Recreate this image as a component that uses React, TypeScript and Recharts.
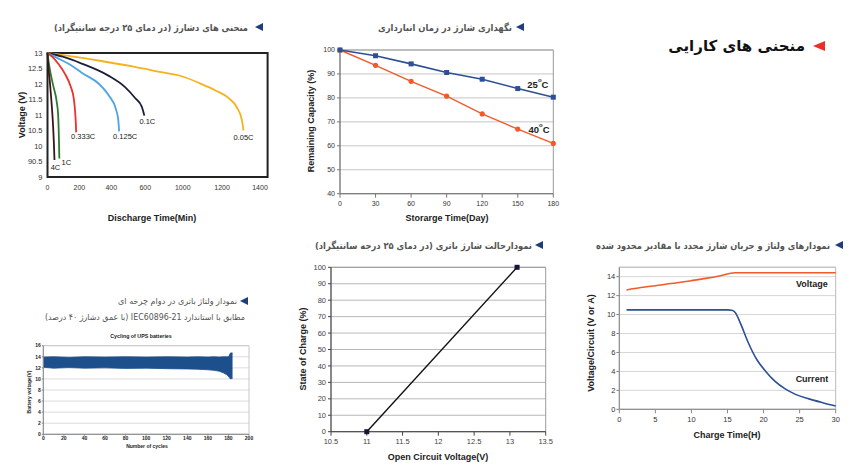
import React from 'react';
import {
  LineChart,
  Line,
  AreaChart,
  Area,
  XAxis,
  YAxis,
  CartesianGrid,
  ReferenceArea,
  ReferenceDot,
} from 'recharts';

const FONT = '"Liberation Sans", Arial, sans-serif';
const FA_FONT = '"DejaVu Sans", sans-serif';

// ---------- Chart 1: discharge curves ----------
const T_005 = [0, 150, 345, 567, 750, 884, 1005, 1104, 1192, 1247, 1280, 1291];
const V_005 = [13.0, 12.9, 12.75, 12.56, 12.38, 12.25, 12.02, 11.8, 11.55, 11.25, 10.85, 10.5];
const T_01 = [0, 100, 225, 401, 511, 577, 621, 638];
const V_01 = [13.0, 12.88, 12.66, 12.27, 11.9, 11.55, 11.27, 10.98];
const T_0125 = [0, 60, 150, 230, 340, 405, 450, 466, 472];
const V_0125 = [13.0, 12.85, 12.62, 12.35, 12.0, 11.62, 11.2, 10.85, 10.47];
const T_0333 = [0, 30, 70, 118, 152, 174, 182, 186, 189];
const V_0333 = [13.0, 12.88, 12.66, 12.3, 11.93, 11.5, 11.1, 10.8, 10.44];
const T_1C = [0, 8, 20, 40, 60, 70, 75, 78];
const V_1C = [13.0, 12.7, 12.35, 11.9, 11.45, 11.0, 10.3, 9.6];
const T_4C = [0, 5, 15, 25, 35, 42, 46];
const V_4C = [13.0, 12.6, 12.1, 11.5, 10.8, 10.1, 9.55];

const DIS_X_TICKS = [0, 210, 420, 644, 891, 1150, 1400];
const DIS_X_LABELS = ['0', '200', '400', '600', '1000', '1200', '1400'];
const DIS_Y_TICKS = [9, 9.5, 10, 10.5, 11, 11.5, 12, 12.5, 13];
const DIS_Y_LABELS = ['9', '90.5', '10', '10.5', '11', '11.5', '12', '12.5', '13'];

const DIS_SERIES = [
  { name: '0.05C', t: T_005, v: V_005, color: '#f6b21c', dx: 0, dy: 7 },
  { name: '0.1C', t: T_01, v: V_01, color: '#1c1f3c', dx: 3, dy: 6 },
  { name: '0.125C', t: T_0125, v: V_0125, color: '#4da5e4', dx: 6, dy: 5 },
  { name: '0.333C', t: T_0333, v: V_0333, color: '#e8322a', dx: 7, dy: 4 },
  { name: '1C', t: T_1C, v: V_1C, color: '#2c7b30', dx: 7, dy: 4 },
  { name: '4C', t: T_4C, v: V_4C, color: '#3a1717', dx: 1, dy: 8 },
];

// ---------- Chart 2: storage ----------
const DAYS = [0, 30, 60, 90, 120, 150, 180];
const CAP_25 = [100, 97.6, 94.2, 90.6, 87.8, 83.9, 80.3];
const CAP_40 = [100, 93.6, 86.9, 80.7, 73.3, 67.0, 61.0];
const CAP_Y_TICKS = [40, 50, 60, 70, 80, 90, 100];

// ---------- Chart 3: cycling ----------
const CYCLES = [0, 10, 25, 40, 60, 80, 100, 120, 140, 150, 160, 166, 171, 175, 178, 180, 181, 182, 184];
const BAND_HI = [13.95, 14.0, 13.9, 14.0, 13.95, 14.0, 13.95, 14.0, 13.95, 14.0, 13.95, 14.0, 13.95, 14.0, 14.0, 14.0, 14.3, 14.7, 14.7];
const BAND_LO = [12.1, 11.95, 12.05, 11.95, 12.0, 11.9, 11.95, 11.85, 11.8, 11.75, 11.65, 11.55, 11.4, 11.1, 10.8, 10.5, 10.2, 10.0, 10.1];
const CYC_X_TICKS = [0, 20, 40, 60, 80, 100, 120, 140, 160, 180, 200];
const CYC_Y_TICKS = [0, 2, 4, 6, 8, 10, 12, 14, 16];

// ---------- Chart 4: state of charge ----------
const OCV = [11.0, 13.1];
const SOC = [0, 100];
const OCV_TICKS = [10.5, 11, 11.5, 12, 12.5, 13, 13.5];
const SOC_TICKS = [0, 10, 20, 30, 40, 50, 60, 70, 80, 90, 100];

// ---------- Chart 5: recharge ----------
const VOLT_T = [1, 3, 5, 8, 10, 12, 14, 16, 18, 22, 26, 30];
const VOLT_V = [12.6, 12.85, 13.05, 13.35, 13.58, 13.82, 14.1, 14.42, 14.42, 14.42, 14.42, 14.42];
const CURR_T = [1, 5, 10, 15, 15.6, 16.1, 16.5, 17.0, 17.9, 19.1, 20.3, 21.6, 23.0, 24.5, 26.3, 28.2, 30];
const CURR_A = [10.5, 10.5, 10.5, 10.5, 10.45, 10.2, 9.6, 8.7, 7.0, 5.2, 4.0, 2.95, 2.15, 1.55, 1.1, 0.7, 0.35];
const CT_X_TICKS = [0, 5, 10, 15, 20, 25, 30];
const CT_Y_TICKS = [0, 2, 4, 6, 8, 10, 12, 14];

const pts = (xs: number[], ys: number[]) => xs.map((x, i) => ({ x, y: ys[i] }));

const Square = (color: string, s: number) => (p: any) => (
  <rect key={p.key} x={p.cx - s / 2} y={p.cy - s / 2} width={s} height={s} fill={color} />
);
const Circle = (color: string, r: number) => (p: any) => (
  <circle key={p.key} cx={p.cx} cy={p.cy} r={r} fill={color} />
);

const Tag = (text: string, dx: number, dy: number, size: number, bold: boolean) => (p: any) => (
  <text
    x={p.cx + dx}
    y={p.cy + dy}
    textAnchor="middle"
    dominantBaseline="central"
    fontSize={size}
    fontFamily={FONT}
    fontWeight={bold ? 'bold' : 'normal'}
    fill="#1a1a1a"
  >
    {text}
  </text>
);

const TempTag = (num: string, dx: number, dy: number) => (p: any) => (
  <text
    x={p.cx + dx}
    y={p.cy + dy}
    textAnchor="middle"
    dominantBaseline="central"
    fontSize={9.5}
    fontFamily={FONT}
    fontWeight="bold"
    fill="#222"
  >
    <tspan>{num}</tspan>
    <tspan dy={-4} fontSize={6}>o</tspan>
    <tspan dy={4}>C</tspan>
  </text>
);

// Persian title, stretched to the width it occupies in the reference
const FaTitle = ({ left, width, cy, text, size, bold }: any) => (
  <svg
    style={{ position: 'absolute', left, top: cy - 10, overflow: 'visible' }}
    width={width}
    height={20}
  >
    <text
      x={width / 2}
      y={10}
      textAnchor="middle"
      dominantBaseline="central"
      direction="rtl"
      textLength={width}
      lengthAdjust="spacingAndGlyphs"
      fontFamily={FA_FONT}
      fontSize={size}
      fontWeight={bold ? 'bold' : 'normal'}
      fill="#555"
    >
      {text}
    </text>
  </svg>
);

const Arrow = ({ x, cy, w, h, color }: any) => (
  <div
    style={{
      position: 'absolute',
      left: x,
      top: cy - h / 2,
      width: 0,
      height: 0,
      borderTop: `${h / 2}px solid transparent`,
      borderBottom: `${h / 2}px solid transparent`,
      borderRight: `${w}px solid ${color}`,
    }}
  />
);

const AxisTitle = ({ cx, cy, text, size, rotate }: any) => (
  <div
    style={{
      position: 'absolute',
      left: cx,
      top: cy,
      transform: `translate(-50%, -50%)${rotate ? ' rotate(-90deg)' : ''}`,
      whiteSpace: 'nowrap',
      fontFamily: FONT,
      fontWeight: 'bold',
      fontSize: size,
      color: '#222',
      lineHeight: 1,
    }}
  >
    {text}
  </div>
);

const tick = (size: number, fill = '#333', weight = 'normal') => ({
  fontSize: size,
  fill,
  fontFamily: FONT,
  fontWeight: weight,
});

export default function App() {
  const bandData = CYCLES.map((c, i) => ({ c, range: [BAND_LO[i], BAND_HI[i]] }));
  const socData = pts(OCV, SOC);

  return (
    <div
      style={{
        position: 'absolute',
        left: 0,
        top: 0,
        width: 865,
        height: 472,
        background: '#fff',
        overflow: 'hidden',
        fontFamily: FONT,
      }}
    >
      {/* Heading */}
      <div
        style={{
          position: 'absolute',
          right: 865 - 825,
          top: 36,
          height: 20,
          display: 'flex',
          alignItems: 'center',
          gap: 8,
          whiteSpace: 'nowrap',
        }}
      >
        <span dir="rtl" style={{ fontFamily: FA_FONT, fontSize: 15, fontWeight: 'bold', color: '#111' }}>
          منحنی های کارایی
        </span>
        <span
          style={{
            width: 0,
            height: 0,
            borderTop: '5px solid transparent',
            borderBottom: '5px solid transparent',
            borderRight: '12px solid #e8302a',
          }}
        />
      </div>

      <FaTitle left={54} width={194} cy={27} size={9.5} bold text="منحنی های دشارژ (در دمای ۲۵ درجه سانتیگراد)" />
      <Arrow x={255} cy={27} w={8} h={8} color="#1f3c7c" />
      <FaTitle left={378} width={134} cy={27} size={9.5} bold text="نگهداری شارژ در زمان انبارداری" />
      <Arrow x={516} cy={27} w={8} h={8} color="#1f3c7c" />
      <FaTitle left={118} width={119} cy={301} size={8.5} text="نمودار ولتاژ باتری در دوام چرخه ای" />
      <Arrow x={240} cy={301} w={8} h={8} color="#1f3c7c" />
      <FaTitle left={45} width={200} cy={317} size={8.5} text="مطابق با استاندارد IEC60896-21 (با عمق دشارژ ۴۰ درصد)" />
      <FaTitle left={315} width={217} cy={245} size={9.5} bold text="نمودارحالت شارژ باتری (در دمای ۲۵ درجه سانتیگراد)" />
      <Arrow x={535} cy={245} w={8} h={8} color="#1f3c7c" />
      <FaTitle left={596} width={234} cy={245} size={9.5} bold text="نمودارهای ولتاژ و جریان شارژ مجدد با مقادیر محدود شده" />
      <Arrow x={835} cy={245} w={8} h={8} color="#1f3c7c" />

      {/* Chart 1 */}
      <div style={{ position: 'absolute', left: 0, top: 40 }}>
        <LineChart width={275} height={190} margin={{ top: 13, right: 7.4, left: 17.5, bottom: 33 }}>
          <XAxis
            type="number"
            dataKey="x"
            domain={[0, 1450]}
            ticks={DIS_X_TICKS}
            interval={0}
            tickFormatter={(v: any, i: number) => DIS_X_LABELS[i]}
            axisLine={false}
            tickLine={false}
            tickSize={6}
            tickMargin={2}
            height={20}
            tick={tick(7)}
          />
          <YAxis
            type="number"
            dataKey="y"
            domain={[9, 13]}
            ticks={DIS_Y_TICKS}
            interval={0}
            tickFormatter={(v: any, i: number) => DIS_Y_LABELS[i]}
            axisLine={false}
            tickLine={false}
            tickSize={3}
            tickMargin={2}
            width={30}
            tick={tick(7.5)}
          />
          {DIS_SERIES.map((s) => (
            <Line
              key={s.name}
              data={pts(s.t, s.v)}
              dataKey="y"
              type="monotone"
              stroke={s.color}
              strokeWidth={1.8}
              dot={false}
              isAnimationActive={false}
            />
          ))}
          <ReferenceArea x1={0} x2={1450} y1={9} y2={13} fill="none" stroke="#222" strokeWidth={2} />
          {DIS_SERIES.map((s) => (
            <ReferenceDot
              key={'l' + s.name}
              x={s.t[s.t.length - 1]}
              y={s.v[s.v.length - 1]}
              shape={Tag(s.name, s.dx, s.dy, 7.5, false)}
            />
          ))}
        </LineChart>
      </div>
      <AxisTitle cx={22} cy={115} text="Voltage (V)" size={9} rotate />
      <AxisTitle cx={152} cy={218} text="Discharge Time(Min)" size={9} />

      {/* Chart 2 */}
      <div style={{ position: 'absolute', left: 290, top: 30 }}>
        <LineChart width={275} height={200} margin={{ top: 20, right: 11.7, left: 20, bottom: 16.3 }}>
          <CartesianGrid vertical={false} stroke="#c6c6c6" />
          <XAxis
            type="number"
            dataKey="x"
            domain={[0, 180]}
            ticks={DAYS}
            interval={0}
            axisLine={{ stroke: '#777' }}
            tickLine={{ stroke: '#777' }}
            tickSize={4}
            tickMargin={3}
            height={20}
            tick={tick(7)}
          />
          <YAxis
            type="number"
            dataKey="y"
            domain={[40, 100]}
            ticks={CAP_Y_TICKS}
            interval={0}
            axisLine={{ stroke: '#777' }}
            tickLine={{ stroke: '#777' }}
            tickSize={3}
            tickMargin={2}
            width={30}
            tick={tick(7)}
          />
          <ReferenceArea x1={0} x2={180} y1={40} y2={100} fill="none" stroke="#999" />
          <Line
            data={pts(DAYS, CAP_40)}
            dataKey="y"
            type="linear"
            stroke="#f15a2b"
            strokeWidth={1.4}
            dot={Circle('#f15a2b', 2.6)}
            isAnimationActive={false}
          />
          <Line
            data={pts(DAYS, CAP_25)}
            dataKey="y"
            type="linear"
            stroke="#2c4f95"
            strokeWidth={1.6}
            dot={Square('#2c4f95', 5)}
            isAnimationActive={false}
          />
          <ReferenceDot x={167} y={85.8} shape={TempTag('25', 0, 0)} />
          <ReferenceDot x={168} y={67} shape={TempTag('40', 0, 0)} />
        </LineChart>
      </div>
      <AxisTitle cx={311} cy={121} text="Remaining Capacity (%)" size={9} rotate />
      <AxisTitle cx={447} cy={218} text="Storarge Time(Day)" size={9} />

      {/* Chart 3 */}
      <div style={{ position: 'absolute', left: 0, top: 325 }}>
        <AreaChart width={260} height={130} data={bandData} margin={{ top: 20.7, right: 11, left: 29.3, bottom: 10.7 }}>
          <CartesianGrid vertical={false} stroke="#dcdcdc" />
          <XAxis
            type="number"
            dataKey="c"
            domain={[0, 200]}
            ticks={CYC_X_TICKS}
            interval={0}
            axisLine={{ stroke: '#888' }}
            tickLine={{ stroke: '#888' }}
            tickSize={1.5}
            tickMargin={1}
            height={10}
            tick={tick(5, '#222', 'bold')}
          />
          <YAxis
            type="number"
            domain={[0, 16]}
            ticks={CYC_Y_TICKS}
            interval={0}
            axisLine={{ stroke: '#888' }}
            tickLine={{ stroke: '#888' }}
            tickSize={1.5}
            tickMargin={1}
            width={14}
            tick={tick(5, '#222', 'bold')}
          />
          <ReferenceArea x1={0} x2={200} y1={0} y2={16} fill="none" stroke="#c8c8c8" />
          <Area
            dataKey="range"
            type="linear"
            stroke="#1e4f8d"
            strokeWidth={0.8}
            fill="#1e4f8d"
            fillOpacity={1}
            isAnimationActive={false}
          />
        </AreaChart>
      </div>
      <AxisTitle cx={141} cy={337} text="Cycling of UPS batteries" size={5.3} />
      <AxisTitle cx={147} cy={446} text="Number of cycles" size={5} />
      <AxisTitle cx={29} cy={392} text="Battery voltage(V)" size={5} rotate />

      {/* Chart 4 */}
      <div style={{ position: 'absolute', left: 290, top: 250 }}>
        <LineChart width={270} height={220} margin={{ top: 17.3, right: 14.3, left: 16, bottom: 18.3 }}>
          <CartesianGrid vertical={false} stroke="#b8b8b8" />
          <XAxis
            type="number"
            dataKey="x"
            domain={[10.5, 13.5]}
            ticks={OCV_TICKS}
            interval={0}
            axisLine={{ stroke: '#444' }}
            tickLine={{ stroke: '#444' }}
            tickSize={4}
            tickMargin={3}
            height={20}
            tick={tick(7.5, '#444')}
          />
          <YAxis
            type="number"
            dataKey="y"
            domain={[0, 100]}
            ticks={SOC_TICKS}
            interval={0}
            axisLine={{ stroke: '#444' }}
            tickLine={{ stroke: '#444' }}
            tickSize={3}
            tickMargin={2}
            width={25}
            tick={tick(7.5, '#444')}
          />
          <ReferenceArea x1={10.5} x2={13.5} y1={0} y2={100} fill="none" stroke="#999" />
          <Line
            data={socData}
            dataKey="y"
            type="linear"
            stroke="#111"
            strokeWidth={1.4}
            dot={Square('#15153a', 5)}
            isAnimationActive={false}
          />
        </LineChart>
      </div>
      <AxisTitle cx={303} cy={349} text="State of Charge (%)" size={9} rotate />
      <AxisTitle cx={438} cy={457} text="Open Circuit Voltage(V)" size={9} />

      {/* Chart 5 */}
      <div style={{ position: 'absolute', left: 580, top: 250 }}>
        <LineChart width={275} height={200} margin={{ top: 17.2, right: 19.3, left: 19.3, bottom: 22.7 }}>
          <CartesianGrid vertical={false} stroke="#d6d6d6" />
          <XAxis
            type="number"
            dataKey="x"
            domain={[0, 30]}
            ticks={CT_X_TICKS}
            interval={0}
            axisLine={{ stroke: '#888' }}
            tickLine={{ stroke: '#888' }}
            tickSize={4}
            tickMargin={3}
            height={18}
            tick={tick(7.5)}
          />
          <YAxis
            type="number"
            dataKey="y"
            domain={[0, 15]}
            ticks={CT_Y_TICKS}
            interval={0}
            axisLine={{ stroke: '#888' }}
            tickLine={{ stroke: '#888' }}
            tickSize={3}
            tickMargin={1}
            width={20}
            tick={tick(7.5)}
          />
          <ReferenceArea x1={0} x2={30} y1={0} y2={15} fill="none" stroke="#bbb" />
          <Line
            data={pts(VOLT_T, VOLT_V)}
            dataKey="y"
            type="monotone"
            stroke="#f15a2b"
            strokeWidth={1.6}
            dot={false}
            isAnimationActive={false}
          />
          <Line
            data={pts(CURR_T, CURR_A)}
            dataKey="y"
            type="monotone"
            stroke="#2c4f95"
            strokeWidth={1.6}
            dot={false}
            isAnimationActive={false}
          />
          <ReferenceDot x={26.7} y={13.2} shape={Tag('Voltage', 0, 0, 9, true)} />
          <ReferenceDot x={26.7} y={3.2} shape={Tag('Current', 0, 0, 9, true)} />
        </LineChart>
      </div>
      <AxisTitle cx={591} cy={343} text="Voltage/Circuit (V or A)" size={9} rotate />
      <AxisTitle cx={727} cy={435} text="Charge Time(H)" size={9} />
    </div>
  );
}
